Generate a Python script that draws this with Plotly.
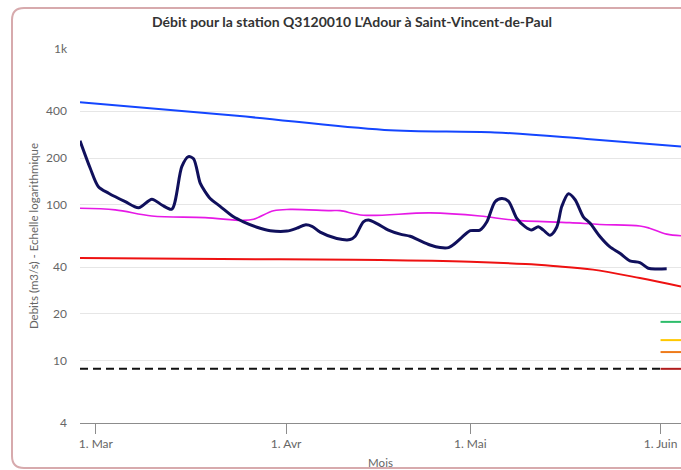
import plotly.graph_objects as go

# ---------------- data ----------------
x_start = "2023-02-26 10:00"
x_end = "2023-06-04 08:00"
threshold_start = "2023-06-01 00:00"

navy_dates = ["2023-02-26 10:00", "2023-02-28 02:00", "2023-03-01 10:00", "2023-03-03 02:00", "2023-03-05 19:00",
              "2023-03-07 23:00", "2023-03-10 03:00", "2023-03-11 18:00", "2023-03-13 09:00", "2023-03-15 00:00",
              "2023-03-16 02:00", "2023-03-16 22:00", "2023-03-18 00:00", "2023-03-18 19:00", "2023-03-19 15:00",
              "2023-03-21 06:00", "2023-03-23 10:00", "2023-03-25 01:00", "2023-03-27 06:00", "2023-03-29 10:00",
              "2023-04-01 03:00", "2023-04-02 18:00", "2023-04-04 02:00", "2023-04-05 05:00", "2023-04-06 13:00",
              "2023-04-09 06:00", "2023-04-11 10:00", "2023-04-12 06:00", "2023-04-13 14:00", "2023-04-14 10:00",
              "2023-04-15 19:00", "2023-04-17 16:00", "2023-04-19 14:00", "2023-04-21 05:00", "2023-04-22 13:00",
              "2023-04-24 11:00", "2023-04-26 02:00", "2023-04-27 11:00", "2023-04-28 13:00", "2023-04-29 15:00",
              "2023-05-01 00:00", "2023-05-02 14:00", "2023-05-03 17:00", "2023-05-05 01:00", "2023-05-06 03:00",
              "2023-05-07 05:00", "2023-05-08 14:00", "2023-05-09 22:00", "2023-05-11 00:00", "2023-05-12 02:00",
              "2023-05-12 22:00", "2023-05-14 00:00", "2023-05-15 02:00", "2023-05-15 22:00", "2023-05-17 00:00",
              "2023-05-18 02:00", "2023-05-19 10:00", "2023-05-20 12:00", "2023-05-22 03:00", "2023-05-23 17:00",
              "2023-05-25 09:00", "2023-05-27 00:00", "2023-05-28 15:00", "2023-05-30 00:00", "2023-05-31 09:00",
              "2023-06-02 00:00"]
navy_values = [258, 172, 131, 119, 105, 96, 109, 100, 94, 176,
               204, 198, 138, 122, 110, 98, 84, 78, 72, 68.4,
               68, 71, 74.5, 73, 67, 61, 60, 63, 78, 80,
               76, 69, 65, 63, 59.7, 55.4, 53.3, 53.3, 56.8, 62,
               68.4, 69, 78, 105, 110, 106, 82, 72.6, 69, 72.6,
               69, 64, 72, 98, 118, 108, 84, 76.5, 62.7, 54,
               49, 43.8, 42.7, 39.3, 38.9, 39]

mag_dates = ["2023-02-26 10:00", "2023-03-04 04:00", "2023-03-10 03:00", "2023-03-18 19:00", "2023-03-25 00:00",
             "2023-03-26 17:00", "2023-03-29 23:00", "2023-04-01 16:00", "2023-04-08 05:00", "2023-04-09 19:00",
             "2023-04-13 14:00", "2023-04-24 11:00", "2023-05-02 14:00", "2023-05-08 00:00", "2023-05-17 05:00",
             "2023-05-22 03:00", "2023-05-28 15:00", "2023-05-30 05:00", "2023-06-02 00:00", "2023-06-04 08:00"]
mag_values = [95.3, 93, 85, 83, 79.6, 81, 91.8, 93.7, 92, 92, 86, 89, 85, 80, 77, 75, 73.3, 71, 65, 63.5]

red_dates = ["2023-02-26 10:00", "2023-03-31 00:00", "2023-04-16 07:00", "2023-05-01 00:00", "2023-05-10 00:00",
             "2023-05-14 12:00", "2023-05-21 00:00", "2023-05-28 15:00", "2023-06-04 08:00"]
red_values = [45.7, 44.8, 44.4, 43.3, 41.8, 40.6, 38.5, 34, 30]

blue_dates = ["2023-02-26 10:00", "2023-03-24 00:00", "2023-04-17 00:00", "2023-05-05 00:00", "2023-05-20 00:00",
              "2023-06-04 08:00"]
blue_values = [455, 373, 303, 292, 265, 237]

low_flow_value = 8.9
threshold_names = ["vigilance", "alerte", "alerte renforcée", "crise"]
threshold_values = [17.8, 13.6, 11.4, 8.9]
threshold_colors = ["#2ebd6b", "#ffc800", "#ee7b1a", "#b01c1c"]

y_tickvals = [4, 10, 20, 40, 100, 200, 400, 1000]
y_ticktext = ["4", "10", "20", "40", "100", "200", "400", "1k"]
x_tickvals = ["2023-03-01", "2023-04-01", "2023-05-01", "2023-06-01"]
x_ticktext = ["1. Mar", "1. Avr", "1. Mai", "1. Juin"]

# ---------------- figure ----------------
fig = go.Figure()

fig.add_trace(go.Scatter(x=blue_dates, y=blue_values, mode="lines", line=dict(color="#1446ff", width=2, shape="spline"), hoverinfo="skip"))
fig.add_trace(go.Scatter(x=mag_dates, y=mag_values, mode="lines", line=dict(color="#e619e6", width=1.6, shape="spline"), hoverinfo="skip"))
fig.add_trace(go.Scatter(x=red_dates, y=red_values, mode="lines", line=dict(color="#ee1111", width=2, shape="spline"), hoverinfo="skip"))
fig.add_trace(go.Scatter(x=[x_start, threshold_start], y=[low_flow_value, low_flow_value], mode="lines",
                         line=dict(color="#111111", width=2, dash="8px,5px"), hoverinfo="skip"))
for name, val, col in zip(threshold_names, threshold_values, threshold_colors):
    fig.add_trace(go.Scatter(x=[threshold_start, x_end], y=[val, val], mode="lines", name=name,
                             line=dict(color=col, width=2), hoverinfo="skip"))
fig.add_trace(go.Scatter(x=navy_dates, y=navy_values, mode="lines",
                         line=dict(color="#10105c", width=3, shape="spline", smoothing=0.8), hoverinfo="skip"))

font_family = "Lato, 'Open Sans', sans-serif"

# rounded frame in paper coordinates
L, R, T, B = 80, 681, 49, 423
pw, ph = R - L, B - T
def px(xp):
    return (xp - L) / pw
def py(yp):
    return (B - yp) / ph
x0, x1, y0, y1 = px(12), px(700), py(468), py(8)
rx, ry = 12 / pw, 12 / ph
path = (f"M {x0+rx},{y1} L {x1},{y1} L {x1},{y0} L {x0+rx},{y0} "
        f"Q {x0},{y0} {x0},{y0+ry} L {x0},{y1-ry} Q {x0},{y1} {x0+rx},{y1} Z")

fig.update_layout(
    width=681, height=470,
    margin=dict(l=L, r=681 - R, t=T, b=470 - B),
    paper_bgcolor="white", plot_bgcolor="white",
    showlegend=False,
    font=dict(family=font_family, color="#666666", size=12),
    title=dict(text="<b>Débit pour la station Q3120010 L'Adour à Saint-Vincent-de-Paul</b>",
               x=352 / 681, xref="container", xanchor="center",
               y=1 - 22 / 470, yref="container", yanchor="middle",
               font=dict(family=font_family, size=14, color="#333333")),
    shapes=[dict(type="path", path=path, xref="paper", yref="paper",
                 line=dict(color="#d7aaad", width=2), fillcolor="rgba(0,0,0,0)", layer="below")],
)

fig.update_xaxes(
    type="date", range=[x_start, x_end],
    tickvals=x_tickvals, ticktext=x_ticktext,
    showgrid=False, showline=True, linecolor="#8c8c8c", linewidth=1,
    ticks="outside", ticklen=10, tickcolor="#8c8c8c",
    tickfont=dict(size=12, color="#666666"),
    title=dict(text="Mois", font=dict(size=11.5, color="#666666"), standoff=8),
    zeroline=False, automargin=False,
)
fig.update_yaxes(
    type="log", range=[0.60206, 3],
    tickvals=y_tickvals, ticktext=y_ticktext,
    showgrid=True, gridcolor="#e6e6e6", gridwidth=1,
    showline=False, zeroline=False, ticks="",
    ticklabelstandoff=12,
    tickfont=dict(size=12, color="#666666"),
    title=dict(text="Debits (m3/s) - Echelle logarithmique", font=dict(size=11.5, color="#666666"), standoff=5),
    automargin=False,
)

fig.write_html("out.html", config={"displayModeBar": False},
               post_script="document.body.style.margin='0';document.body.style.overflow='hidden';")
